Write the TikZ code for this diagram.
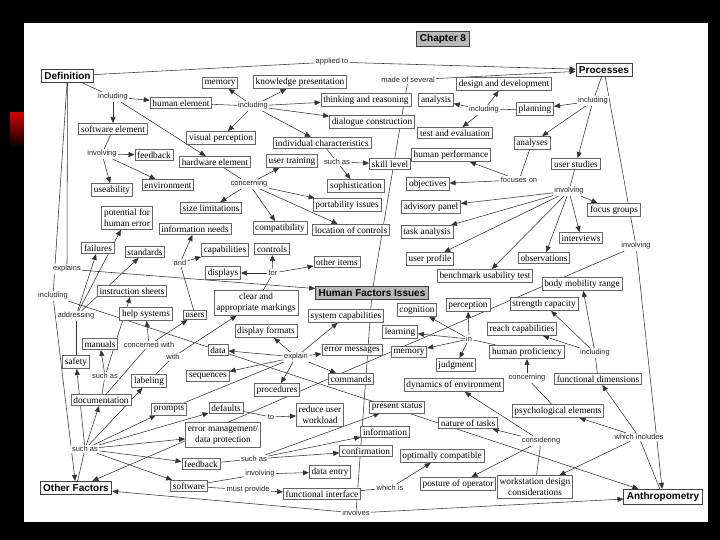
\documentclass[tikz,border=0pt]{standalone}
\usepackage{fontspec}
\usetikzlibrary{arrows.meta}
\newfontfamily\SerifF{Liberation Serif}
\newfontfamily\SansF{Liberation Sans}
\newcommand\CFont{\SerifF\fontsize{9.3}{11.5}\selectfont}
\newcommand\LFont{\SansF\fontsize{7.5}{9}\selectfont}
\newcommand\BFont{\SansF\bfseries\fontsize{10}{12}\selectfont}
\pgfdeclarelayer{back}
\pgfdeclarelayer{edges}
\pgfsetlayers{back,edges,main}
\begin{document}
\begin{tikzpicture}[x=1pt,y=-1pt,
  cb/.style={draw=black!60, line width=0.8pt, fill=white, font=\CFont, inner sep=2.3pt, align=center},
  bb/.style={draw=black!75, line width=0.9pt, fill=white, font=\BFont, inner sep=3pt},
  gb/.style={bb, fill=black!28},
  lk/.style={fill=white, font=\LFont, inner sep=1.2pt, text=black!85},
  ln/.style={draw=black!80, line width=0.55pt},
  ar/.style={ln, -{Triangle[length=6pt,width=5pt]}}]
\useasboundingbox (0,0) rectangle (720,540);
\begin{pgfonlayer}{back}
\fill[black] (0,0) rectangle (720,540);
\shade[top color=red!80!black, bottom color=black] (10,113) rectangle (24,148);
\fill[white] (24,23) rectangle (708,522);
\end{pgfonlayer}
% main concepts
\node[bb] (def) at (67.5,76) {Definition};
\node[bb] (proc) at (604,70) {Processes};
\node[gb] (ch8) at (443,39) {Chapter 8};
\node[gb] (hfi) at (372,293) {Human Factors Issues};
\node[bb] (oth) at (76,488) {Other Factors};
\node[bb] (anth) at (663,497) {Anthropometry};
% concepts
\node[cb] (mem1) at (220,83) {memory};
\node[cb] (kp) at (300,82) {knowledge presentation};
\node[cb] (he) at (181,103) {human element};
\node[cb] (tr) at (366,100) {thinking and reasoning};
\node[cb] (dc) at (372,122) {dialogue construction};
\node[cb] (se) at (113,129) {software element};
\node[cb] (vp) at (221,138) {visual perception};
\node[cb] (ic) at (322,143) {individual characteristics};
\node[cb] (hw) at (215,162) {hardware element};
\node[cb] (ut) at (292,161) {user training};
\node[cb] (sl) at (390,164) {skill level};
\node[cb] (soph) at (356,186) {sophistication};
\node[cb] (fb1) at (154,155) {feedback};
\node[cb] (use) at (112,190) {useability};
\node[cb] (env) at (168,185) {environment};
\node[cb] (szl) at (211,208) {size limitations};
\node[cb] (port) at (347,205) {portability issues};
\node[cb] (phe) at (127,218) {potential for\\human error};
\node[cb] (inf) at (195,229) {information needs};
\node[cb] (comp) at (280,228) {compatibility};
\node[cb] (loc) at (351,230) {location of controls};
\node[cb] (fail) at (98,248) {failures};
\node[cb] (std) at (145,252) {standards};
\node[cb] (cap) at (225,250) {capabilities};
\node[cb] (ctl) at (272,249) {controls};
\node[cb] (oi) at (337,262) {other items};
\node[cb] (disp) at (223,273) {displays};
\node[cb] (is) at (132,291) {instruction sheets};
\node[cb] (hs) at (146,314) {help systems};
\node[cb] (users) at (195,315) {users};
\node[cb] (cam) at (256,303) {clear and\\appropriate markings};
\node[cb] (df) at (266,331) {display formats};
\node[cb] (sc) at (346,316) {system capabilities};
\node[cb] (man) at (100,344) {manuals};
\node[cb] (data) at (218,350) {data};
\node[cb] (em) at (352,350) {error messages};
\node[cb] (saf) at (76,362) {safety};
\node[cb] (seq) at (208,376) {sequences};
\node[cb] (cmd) at (351,379) {commands};
\node[cb] (lab) at (149,381) {labeling};
\node[cb] (pro) at (277,390) {procedures};
\node[cb] (doc) at (101,400) {documentation};
\node[cb] (prm) at (169,409) {prompts};
\node[cb] (dft) at (226,408) {defaults};
\node[cb] (ruw) at (320,415) {reduce user\\workload};
\node[cb] (ps) at (397,407) {present status};
\node[cb] (emdp) at (223,435) {error management/\\data protection};
\node[cb] (info) at (385,432) {information};
\node[cb] (not) at (468,423) {nature of tasks};
\node[cb] (fb2) at (201,464) {feedback};
\node[cb] (conf) at (366,451) {confirmation};
\node[cb] (oc) at (442,456) {optimally compatible};
\node[cb] (de) at (330,472) {data entry};
\node[cb] (sw) at (189,486) {software};
\node[cb] (fi) at (322,494) {functional interface};
\node[cb] (po) at (458,484) {posture of operator};
\node[cb] (wdc) at (535,487) {workstation design\\considerations};
\node[cb] (pe) at (558,411) {psychological elements};
\node[cb] (doe) at (454,385) {dynamics of environment};
\node[cb] (fd) at (598,379) {functional dimensions};
\node[cb] (jud) at (456,365) {judgment};
\node[cb] (mem2) at (409,352) {memory};
\node[cb] (hp) at (527,352) {human proficiency};
\node[cb] (lrn) at (400,332) {learning};
\node[cb] (rc) at (522,329) {reach capabilities};
\node[cb] (cog) at (417,310) {cognition};
\node[cb] (perc) at (468,305) {perception};
\node[cb] (strc) at (544,304) {strength capacity};
\node[cb] (bmr) at (582,284) {body mobility range};
\node[cb] (but) at (485,276) {benchmark usability test};
\node[cb] (dd) at (504,84) {design and development};
\node[cb] (ana) at (436,100) {analysis};
\node[cb] (plan) at (535,109) {planning};
\node[cb] (te) at (455,133) {test and evaluation};
\node[cb] (anas) at (532,143) {analyses};
\node[cb] (hperf) at (451,155) {human performance};
\node[cb] (us) at (576,164) {user studies};
\node[cb] (obj) at (428,184) {objectives};
\node[cb] (ap) at (431,207) {advisory panel};
\node[cb] (fg) at (614,210) {focus groups};
\node[cb] (ta) at (427,232) {task analysis};
\node[cb] (iv) at (581,238) {interviews};
\node[cb] (up) at (430,259) {user profile};
\node[cb] (obs) at (544,258) {observations};
% linking phrases
\node[lk] (lApplied) at (332,62) {applied to};
\node[lk] (lInc1) at (113,97) {including};
\node[lk] (lInc2) at (253,106) {including};
\node[lk] (lMade) at (408,80) {made of several};
\node[lk] (lInc3) at (484,110) {including};
\node[lk] (lInc4) at (593,101) {including};
\node[lk] (lInv1) at (102,154) {involving};
\node[lk] (lConc1) at (249,184) {concerning};
\node[lk] (lSuch1) at (337,162) {such as};
\node[lk] (lFoc) at (519,180) {focuses on};
\node[lk] (lInv2) at (569,191) {involving};
\node[lk] (lInv3) at (636,246) {involving};
\node[lk] (lAnd) at (180,263) {and};
\node[lk] (lFor) at (273,273) {for};
\node[lk] (lExpl) at (67,269) {explains};
\node[lk] (lInc5) at (53,296) {including};
\node[lk] (lAddr) at (76,316) {addressing};
\node[lk] (lConcW) at (149,345) {concerned with};
\node[lk] (lWith) at (173,357) {with};
\node[lk] (lExp) at (296,357) {explain};
\node[lk] (lSuch2) at (105,376) {such as};
\node[lk] (lIn) at (469,339) {in};
\node[lk] (lInc6) at (595,353) {including};
\node[lk] (lConc2) at (527,378) {concerning};
\node[lk] (lTo) at (271,417) {to};
\node[lk] (lConsid) at (541,441) {considering};
\node[lk] (lWhich) at (639,437) {which includes};
\node[lk] (lSuch3) at (85,449) {such as};
\node[lk] (lSuch4) at (254,459) {such as};
\node[lk] (lInv4) at (260,474) {involving};
\node[lk] (lMust) at (248,490) {must provide};
\node[lk] (lWhichIs) at (390,488) {which is};
\node[lk] (lInvolves) at (356,513) {involves};
% connectors
\begin{pgfonlayer}{edges}
\draw[ln] (def) -- (lApplied); \draw[ar] (lApplied) -- (proc);
\draw[ln] (def) -- (lInc1);
\foreach \t in {he,se,hw} \draw[ar] (lInc1) -- (\t);
\draw[ln] (he) -- (lInc2);
\foreach \t in {mem1,kp,tr,dc,vp,ic} \draw[ar] (lInc2) -- (\t);
\draw[ln] (se) -- (lInv1);
\foreach \t in {fb1,use,env} \draw[ar] (lInv1) -- (\t);
\draw[ln] (hw) -- (lConc1);
\foreach \t in {ut,szl,port,comp,loc} \draw[ar] (lConc1) -- (\t);
\draw[ln] (ic) -- (lSuch1);
\foreach \t in {sl,soph} \draw[ar] (lSuch1) -- (\t);
\draw[ln] (hfi) -- (lMade); \draw[ar] (lMade) -- (proc);
\draw[ln] (proc) -- (lInc4);
\foreach \t in {plan,anas,us} \draw[ar] (lInc4) -- (\t);
\draw[ln] (plan) -- (lInc3);
\foreach \t in {ana,dd,te} \draw[ar] (lInc3) -- (\t);
\draw[ln] (anas) -- (lFoc);
\foreach \t in {hperf,obj} \draw[ar] (lFoc) -- (\t);
\draw[ln] (us) -- (lInv2);
\foreach \t in {ap,ta,up,but,obs,iv,fg} \draw[ar] (lInv2) -- (\t);
\draw[ln] (proc) -- (lInv3);
\foreach \t in {anth,oth} \draw[ar] (lInv3) -- (\t);
\draw[ln] (def) -- (lExpl); \draw[ar] (lExpl) -- (hfi);
\draw[ln] (def) -- (lInc5);
\foreach \t in {oth,anth} \draw[ar] (lInc5) -- (\t);
\draw[ln] (hfi) -- (lInvolves);
\foreach \t in {oth,anth} \draw[ar] (lInvolves) -- (\t);
\draw[ln] (cam) -- (lFor);
\foreach \t in {disp,ctl,oi} \draw[ar] (lFor) -- (\t);
\draw[ln] (users) -- (lAnd);
\foreach \t in {inf,cap} \draw[ar] (lAnd) -- (\t);
\draw[ln] (saf) -- (lAddr);
\foreach \t in {fail,phe,std} \draw[ar] (lAddr) -- (\t);
\draw[ln] (doc) -- (lSuch2);
\foreach \t in {man,is} \draw[ar] (lSuch2) -- (\t);
\draw[ln] (doc) -- (lConcW);
\foreach \t in {hs,users} \draw[ar] (lConcW) -- (\t);
\draw[ln] (lab) -- (lWith); \draw[ar] (lWith) -- (cam);
\draw[ln] (prm) -- (lExp);
\foreach \t in {df,sc,em,data,seq,pro,cmd} \draw[ar] (lExp) -- (\t);
\draw[ln] (dft) -- (lTo); \draw[ar] (lTo) -- (ruw);
\draw[ln] (oth) -- (lSuch3);
\foreach \t in {doc,saf,lab,prm,dft,emdp,fb2,sw} \draw[ar] (lSuch3) -- (\t);
\draw[ln] (fb2) -- (lSuch4);
\foreach \t in {ps,info,conf} \draw[ar] (lSuch4) -- (\t);
\draw[ln] (sw) -- (lInv4); \draw[ar] (lInv4) -- (de);
\draw[ln] (sw) -- (lMust); \draw[ar] (lMust) -- (fi);
\draw[ln] (fi) -- (lWhichIs); \draw[ar] (lWhichIs) -- (oc);
\draw[ln] (hp) -- (lIn);
\foreach \t in {cog,perc,lrn,mem2,jud} \draw[ar] (lIn) -- (\t);
\draw[ln] (fd) -- (lInc6);
\foreach \t in {bmr,strc,rc} \draw[ar] (lInc6) -- (\t);
\draw[ln] (pe) -- (lConc2); \draw[ar] (lConc2) -- (hp);
\draw[ln] (wdc) -- (lConsid);
\foreach \t in {not,po,doe} \draw[ar] (lConsid) -- (\t);
\draw[ln] (anth) -- (lWhich);
\foreach \t in {wdc,pe,fd} \draw[ar] (lWhich) -- (\t);
\end{pgfonlayer}
\end{tikzpicture}
\end{document}
